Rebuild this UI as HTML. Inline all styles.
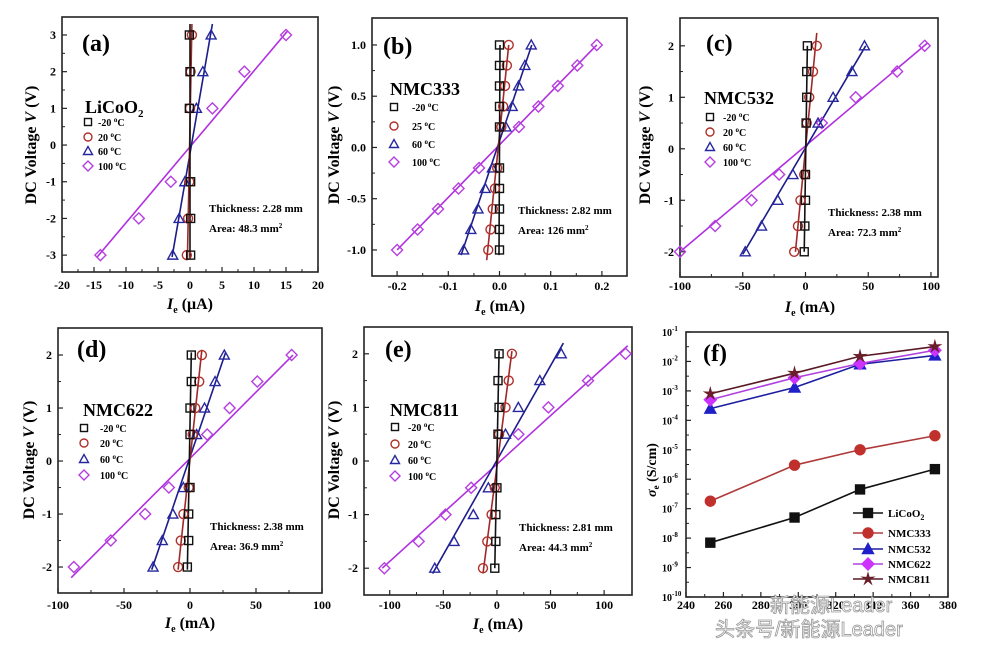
<!DOCTYPE html>
<html><head><meta charset="utf-8"><style>
html,body{margin:0;padding:0;background:#fff;width:981px;height:648px;overflow:hidden}
svg text{font-family:"Liberation Serif",serif;font-weight:bold}
</style></head><body>
<svg id="s" width="981" height="648" xmlns="http://www.w3.org/2000/svg"></svg>
<script>
const S=document.getElementById('s');let h='';
const C={k:'#111',r:'#b0302a',b:'#2727a0',m:'#b63fe0',lr:'#a02828',lb:'#1c1c8a',lm:'#b030e0'};
function mk(t,x,y,c,fill,sz){sz=sz||4;fill=fill||'none';
 if(t=='s')return `<rect x="${x-sz}" y="${y-sz}" width="${2*sz}" height="${2*sz}" fill="${fill}" stroke="${c}" stroke-width="1.4"/>`;
 if(t=='o')return `<circle cx="${x}" cy="${y}" r="${sz+0.5}" fill="${fill}" stroke="${c}" stroke-width="1.4"/>`;
 if(t=='t')return `<polygon points="${x},${y-sz-1} ${x-sz-1},${y+sz} ${x+sz+1},${y+sz}" fill="${fill}" stroke="${c}" stroke-width="1.4"/>`;
 if(t=='d')return `<polygon points="${x},${y-sz-1.5} ${x+sz+1.5},${y} ${x},${y+sz+1.5} ${x-sz-1.5},${y}" fill="${fill}" stroke="${c}" stroke-width="1.4"/>`;
 if(t=='*'){let p=[];for(let i=0;i<10;i++){let a=-Math.PI/2+i*Math.PI/5,r=i%2?sz*0.45:sz+1.5;p.push((x+r*Math.cos(a)).toFixed(1)+','+(y+r*Math.sin(a)).toFixed(1));}
  return `<polygon points="${p.join(' ')}" fill="${fill}" stroke="${c}" stroke-width="1"/>`;}
}
function txt(x,y,s,sz,anchor,extra){return `<text x="${x}" y="${y}" font-size="${sz}" text-anchor="${anchor||'start'}" ${extra||''}>${s}</text>`;}
function panel(P){
 const [L,T,R,B]=P.box,[x0,x1]=P.xl,[y0,y1]=P.yl;
 const X=v=>L+(v-x0)/(x1-x0)*(R-L),Y=v=>B-(v-y0)/(y1-y0)*(B-T);
 P.X=X;P.Y=Y;
 h+=`<rect x="${L}" y="${T}" width="${R-L}" height="${B-T}" fill="none" stroke="#222" stroke-width="1.6"/>`;
 P.xt.forEach((v,i)=>{let x=X(v);h+=`<line x1="${x}" y1="${B}" x2="${x}" y2="${B-5}" stroke="#222" stroke-width="1.2"/>`;
  h+=txt(x,P.xty,P.xtl?P.xtl[i]:v,12,'middle');
  if(i<P.xt.length-1){let xm=X((v+P.xt[i+1])/2);h+=`<line x1="${xm}" y1="${B}" x2="${xm}" y2="${B-3}" stroke="#222" stroke-width="1"/>`;}});
 P.yt.forEach((v,i)=>{let y=Y(v);h+=`<line x1="${L}" y1="${y}" x2="${L+5}" y2="${y}" stroke="#222" stroke-width="1.2"/>`;
  h+=txt(L-6,y+4,P.ytl?P.ytl[i]:v,12,'end');
  if(i<P.yt.length-1){let ym=Y((v+P.yt[i+1])/2);h+=`<line x1="${L}" y1="${ym}" x2="${L+3}" y2="${ym}" stroke="#222" stroke-width="1"/>`;}});
}
function iv(P,ser){
 panel(P);const X=P.X,Y=P.Y;
 ser.forEach(s=>{
  h+=`<line x1="${X(s.l[0])}" y1="${Y(s.l[1])}" x2="${X(s.l[2])}" y2="${Y(s.l[3])}" stroke="${s.lc}" stroke-width="1.6"/>`;
 });
 ser.forEach(s=>{s.p.forEach(p=>{h+=mk(s.m,X(p[0]),Y(p[1]),s.c);});});
}
function lin(ys,f){return ys.map(y=>[f(y),y]);}
const yb=[-1,-.8,-.6,-.4,-.2,.2,.4,.6,.8,1],y3=[-3,-2,-1,1,2,3],y2=[-2,-1.5,-1,-.5,.5,1,1.5,2];
const pts=(xs,ys)=>xs.map((x,i)=>[x,ys[i]]);
iv({box:[62,17,318,272],xl:[-20,20],yl:[-3.46,3.49],xt:[-20,-15,-10,-5,0,5,10,15,20],yt:[-3,-2,-1,0,1,2,3],xty:289},[
 {m:'d',c:C.m,lc:C.lm,l:[-14.5,-3.05,15.2,3.1],p:pts([-14,-8,-3,3.5,8.5,15],y3)},
 {m:'t',c:C.b,lc:C.lb,l:[-2.8,-3.05,3.5,3.3],p:pts([-2.7,-1.7,-0.8,1,2,3.3],y3)},
 {m:'o',c:C.r,lc:C.lr,l:[-0.4,-3.1,0.3,3.3],p:pts([-0.5,-0.3,-0.1,0,0.1,0.3],y3)},
 {m:'s',c:C.k,lc:C.k,l:[0,-3.1,0,3.3],p:pts([0.1,0.1,0.1,-0.1,0,-0.1],y3)}]);
iv({box:[372,18,627,276],xl:[-0.249,0.249],yl:[-1.254,1.263],xt:[-0.2,-0.1,0,0.1,0.2],xtl:['-0.2','-0.1','0.0','0.1','0.2'],yt:[-1,-0.5,0,0.5,1],ytl:['-1.0','-0.5','0.0','0.5','1.0'],xty:290},[
 {m:'d',c:C.m,lc:C.lm,l:[-0.2,-1,0.19,1],p:lin(yb,y=>y>0?0.19*y:0.2*y)},
 {m:'t',c:C.b,lc:C.lb,l:[-0.075,-1.05,0.063,1.0],p:lin(yb,y=>y>0?0.062*y:0.07*y)},
 {m:'o',c:C.r,lc:C.lr,l:[-0.025,-1.1,0.018,1.0],p:lin(yb,y=>y>0?0.018*y:0.022*y)},
 {m:'s',c:C.k,lc:C.k,l:[-0.001,-1.05,0.001,1.0],p:lin(yb,y=>0)}]);
iv({box:[680,18,938,277],xl:[-100,105.6],yl:[-2.49,2.54],xt:[-100,-50,0,50,100],yt:[-2,-1,0,1,2],xty:290},[
 {m:'d',c:C.m,lc:C.lm,l:[-100,-2,97,2.05],p:pts([-100,-72,-43,-21,13,40,73,95],y2)},
 {m:'t',c:C.b,lc:C.lb,l:[-50,-2.05,48,2],p:pts([-48,-35,-22,-10,10,22,37,47],y2)},
 {m:'o',c:C.r,lc:C.lr,l:[-8,-2,9,2.25],p:pts([-9,-6,-4,-1,1,3,6,9],y2)},
 {m:'s',c:C.k,lc:C.k,l:[-1,-2,1.5,2],p:pts([-1,-0.5,0,0,0.5,1,1,1.5],y2)}]);
iv({box:[58,328,322,593],xl:[-100,100],yl:[-2.49,2.51],xt:[-100,-50,0,50,100],yt:[-2,-1,0,1,2],xty:609},[
 {m:'d',c:C.m,lc:C.lm,l:[-90,-2.2,78,2],p:pts([-88,-60,-34,-16,13,30,51,77],y2)},
 {m:'t',c:C.b,lc:C.lb,l:[-29,-2.05,27,2.05],p:pts([-28,-21,-13,-5,5,11,19,26],y2)},
 {m:'o',c:C.r,lc:C.lr,l:[-9,-2.05,9,2.1],p:pts([-9,-7,-5,-1,2,4,7,9],y2)},
 {m:'s',c:C.k,lc:C.k,l:[-2,-2.05,1,2.05],p:pts([-2,-1,-1,0,0,0,1,1],y2)}]);
iv({box:[364,327,632,595],xl:[-124,126],yl:[-2.5,2.5],xt:[-100,-50,0,50,100],yt:[-2,-1,0,1,2],xty:609},[
 {m:'d',c:C.m,lc:C.lm,l:[-107,-2,122,2.15],p:pts([-105,-73,-48,-24,20,48,85,120],y2)},
 {m:'t',c:C.b,lc:C.lb,l:[-60,-2.1,62,2.2],p:pts([-58,-40,-22,-8,8,20,40,60],y2)},
 {m:'o',c:C.r,lc:C.lr,l:[-13,-2.1,14,2.05],p:pts([-13,-9,-5,-2,2,8,11,14],y2)},
 {m:'s',c:C.k,lc:C.k,l:[-2,-2,2,2.05],p:pts([-2,-1,-1,0,1,2,1,2],y2)}]);
{const P={box:[686,332,948,597],xl:[240,380],yl:[-10,-1],xt:[240,260,280,300,320,340,360,380],yt:[-10,-9,-8,-7,-6,-5,-4,-3,-2,-1],ytl:[],xty:609};
 P.yt.forEach(v=>P.ytl.push(''));panel(P);
 P.yt.forEach(v=>{h+=`<text x="${662}" y="${P.Y(v)+4}" font-size="10">10<tspan dy="-5" font-size="7">${v}</tspan></text>`;});
 const T=[253,298,333,373];
 const D=[['s',C.k,C.k,[7e-9,5e-8,4.5e-7,2.2e-6]],['o','#c0302c','#b03a3a',[1.8e-7,3e-6,1e-5,3e-5]],
  ['t','#2020c8','#1e1ea0',[2.5e-4,1.3e-3,8e-3,1.6e-2]],['d','#cc33ff','#b040e0',[5e-4,2.8e-3,8.5e-3,2.4e-2]],['*','#6a1f2a','#5a1a25',[8e-4,4e-3,1.5e-2,3.2e-2]]];
 D.forEach(d=>{let p=T.map((t,i)=>P.X(t)+','+P.Y(Math.log10(d[3][i]))).join(' ');
  h+=`<polyline points="${p}" fill="none" stroke="${d[2]}" stroke-width="1.6"/>`;
  T.forEach((t,i)=>{h+=mk(d[0],P.X(t),P.Y(Math.log10(d[3][i])),d[1],d[1],4.5);});});
 const names=['LiCoO<tspan dy="3" font-size="8">2</tspan>','NMC333','NMC532','NMC622','NMC811'],ly=[513,533,549,564,579];
 D.forEach((d,i)=>{h+=`<line x1="853" y1="${ly[i]}" x2="883" y2="${ly[i]}" stroke="${d[2]}" stroke-width="1.6"/>`;h+=mk(d[0],868,ly[i],d[1],d[1],4.5);
  h+=txt(888,ly[i]+4,names[i],11);});
 h+=txt(703,361,'(f)',24,'start','font-family="Liberation Sans"');
 h+=`<text transform="translate(656,470) rotate(-90)" font-size="14" text-anchor="middle"><tspan font-style="italic">σ</tspan><tspan font-size="9" dy="3">e</tspan><tspan dy="-3"> (S/cm)</tspan></text>`;
}
function ylab(x,y){h+=`<text transform="translate(${x},${y}) rotate(-90)" font-size="16" text-anchor="middle">DC Voltage <tspan font-style="italic">V</tspan> (V)</text>`;}
ylab(36,145);ylab(339,145);ylab(650,145);ylab(34,460);ylab(339,460);
function xlab(x,y,u){h+=`<text x="${x}" y="${y}" font-size="16" text-anchor="middle"><tspan font-style="italic">I</tspan><tspan font-size="10" dy="4">e</tspan><tspan dy="-4"> (${u})</tspan></text>`;}
xlab(190,309,'μA');xlab(500,311,'mA');xlab(810,312,'mA');xlab(190,628,'mA');xlab(498,629,'mA');
[['(a)',82,51],['(b)',383,54],['(c)',706,51],['(d)',77,357],['(e)',385,357]].forEach(l=>h+=txt(l[1],l[2],l[0],24,'start','font-family="Liberation Sans"'));
function leg(name,nx,ny,mx,tx,rows,temps){h+=txt(nx,ny,name,18);
 const ms=[['s',C.k],['o',C.r],['t',C.b],['d',C.m]];
 rows.forEach((y,i)=>{h+=mk(ms[i][0],mx,y,ms[i][1],'none',3.5);h+=txt(tx,y+4,temps[i]+' <tspan dy="-4" font-size="7">o</tspan><tspan dy="4">C</tspan>',10);});}
const tA=['-20','20','60','100'];
leg('LiCoO<tspan dy="4" font-size="11">2</tspan>',85,113,88,98,[122,137,151,166],tA);
leg('NMC333',390,95,394,412,[107,126,144,162],['-20','25','60','100']);
leg('NMC532',704,104,710,723,[117,132,147,162],tA);
leg('NMC622',83,416,84,100,[428,443,459,475],tA);
leg('NMC811',390,416,395,408,[427,444,460,476],tA);
function th(x,y,t,a){h+=txt(x,y,'Thickness: '+t+' mm',11);h+=txt(x,y+20,'Area: '+a+' mm<tspan dy="-4" font-size="7">2</tspan>',11);}
th(209,212,'2.28','48.3');th(518,214,'2.82','126');th(828,216,'2.38','72.3');th(210,530,'2.38','36.9');th(519,531,'2.81','44.3');
h+=`<text x="770" y="612" font-size="20" fill="#fff" stroke="#999" stroke-width="0.8" style="font-family:'Liberation Sans','Noto Sans CJK SC',sans-serif;font-weight:normal">新能源Leader</text>`;
h+=`<text x="715" y="636" font-size="20" fill="#fff" stroke="#999" stroke-width="0.8" style="font-family:'Liberation Sans','Noto Sans CJK SC',sans-serif;font-weight:normal">头条号/新能源Leader</text>`;
S.innerHTML=h;
</script>
</body></html>
